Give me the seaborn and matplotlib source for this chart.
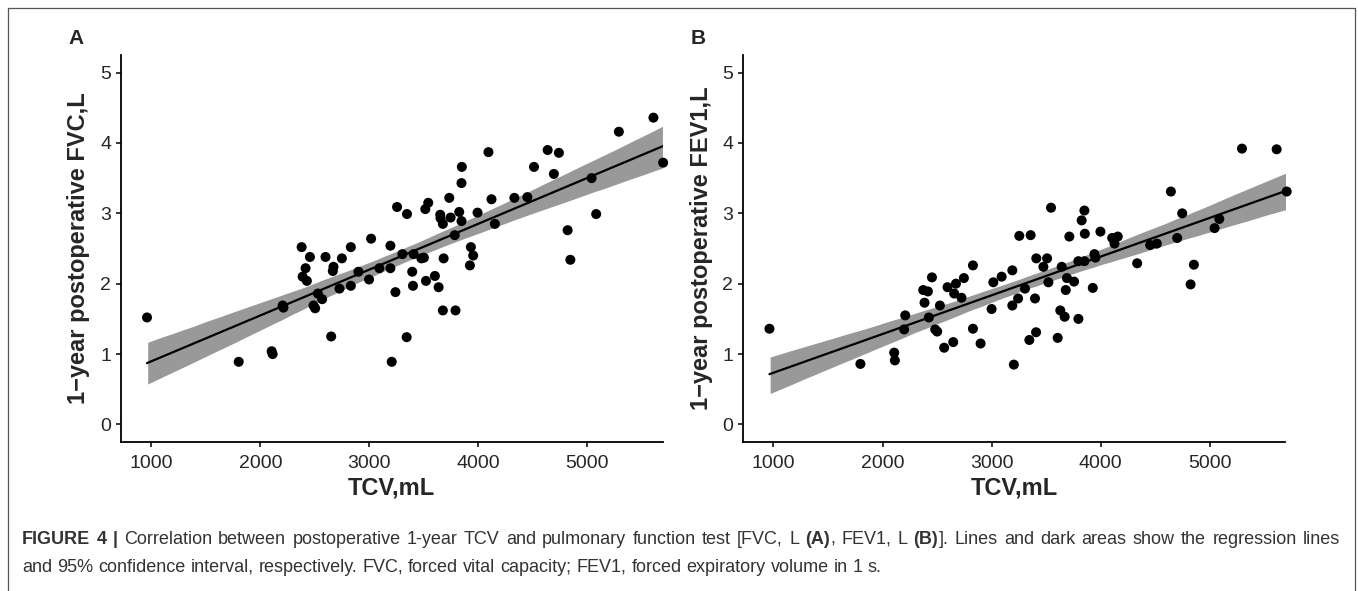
import numpy as np
import pandas as pd
import seaborn as sns
import matplotlib.pyplot as plt
from matplotlib.lines import Line2D

sns.set_theme(style='ticks')
plt.rcParams['font.family'] = ['Liberation Sans', 'DejaVu Sans']

# panel A: TCV vs 1-year FVC
tcv_a = [961, 1802, 2104, 2113, 2205, 2212, 2379, 2388, 2415, 2427,
         2455, 2488, 2503, 2528, 2567, 2598, 2650, 2665, 2671, 2726,
         2748, 2830, 2830, 2900, 2997, 3016, 3092, 3193, 3193, 3205,
         3239, 3254, 3303, 3342, 3345, 3393, 3400, 3406, 3477, 3500,
         3513, 3519, 3540, 3601, 3635, 3650, 3653, 3674, 3674, 3681,
         3733, 3745, 3783, 3790, 3824, 3845, 3848, 3845, 3922, 3931,
         3952, 3992, 4092, 4120, 4151, 4330, 4449, 4510, 4635, 4692,
         4738, 4818, 4843, 5038, 5080, 5288, 5605, 5694]
fvc = [1.52, 0.89, 1.04, 1.00, 1.69, 1.66, 2.52, 2.10, 2.22, 2.04,
       2.38, 1.69, 1.65, 1.86, 1.78, 2.38, 1.25, 2.18, 2.24, 1.93,
       2.36, 2.52, 1.97, 2.17, 2.06, 2.64, 2.22, 2.54, 2.22, 0.89,
       1.88, 3.09, 2.42, 1.24, 2.99, 2.17, 1.97, 2.42, 2.36, 2.37,
       3.06, 2.04, 3.15, 2.11, 1.95, 2.98, 2.93, 2.85, 1.62, 2.36,
       3.22, 2.94, 2.69, 1.62, 3.02, 3.43, 3.66, 2.89, 2.26, 2.52,
       2.40, 3.01, 3.87, 3.20, 2.85, 3.22, 3.23, 3.66, 3.90, 3.56,
       3.86, 2.76, 2.34, 3.50, 2.99, 4.16, 4.36, 3.72]

# panel B: TCV vs 1-year FEV1
tcv_b = [963, 1797, 2107, 2113, 2198, 2208, 2373, 2385, 2416, 2425,
         2453, 2483, 2501, 2526, 2565, 2596, 2648, 2657, 2673, 2724,
         2746, 2829, 2829, 2899, 3000, 3016, 3092, 3190, 3190, 3204,
         3243, 3254, 3306, 3346, 3358, 3398, 3408, 3410, 3475, 3509,
         3521, 3545, 3606, 3630, 3643, 3670, 3680, 3691, 3713, 3756,
         3796, 3796, 3826, 3851, 3851, 3855, 3928, 3943, 3952, 3998,
         4106, 4127, 4157, 4335, 4454, 4515, 4644, 4702, 4748, 4825,
         4855, 5045, 5088, 5296, 5614, 5706]
fev1 = [1.36, 0.86, 1.02, 0.91, 1.35, 1.55, 1.91, 1.73, 1.89, 1.52,
        2.09, 1.35, 1.32, 1.69, 1.09, 1.95, 1.17, 1.86, 2.00, 1.80,
        2.08, 2.26, 1.36, 1.15, 1.64, 2.02, 2.10, 2.19, 1.69, 0.85,
        1.79, 2.68, 1.93, 1.20, 2.69, 1.79, 1.31, 2.36, 2.24, 2.36,
        2.02, 3.08, 1.23, 1.62, 2.24, 1.53, 1.91, 2.08, 2.67, 2.03,
        2.32, 1.50, 2.90, 3.04, 2.32, 2.71, 1.94, 2.42, 2.37, 2.74,
        2.65, 2.57, 2.67, 2.29, 2.55, 2.57, 3.31, 2.65, 3.00, 1.99,
        2.27, 2.79, 2.92, 3.92, 3.91, 3.31]

x_ticks = [1000, 2000, 3000, 4000, 5000]
y_ticks = [0, 1, 2, 3, 4, 5]

fig = plt.figure(figsize=(13.58, 5.91), dpi=100)
ax_a = fig.add_axes([0.0889, 0.2521, 0.3991, 0.6548])
ax_b = fig.add_axes([0.5471, 0.2521, 0.3991, 0.6548])

panels = [
    (ax_a, tcv_a, fvc, '1\u2212year postoperative FVC,L', 'A'),
    (ax_b, tcv_b, fev1, '1\u2212year postoperative FEV1,L', 'B'),
]

for ax, xs, ys, ylab, tag in panels:
    df = pd.DataFrame({'tcv': xs, 'val': ys})
    sns.regplot(data=df, x='tcv', y='val', ax=ax, scatter=False, ci=95,
                seed=0, color='black', line_kws={'lw': 1.6, 'zorder': 4})
    band = ax.collections[-1]
    band.set_facecolor('#999999')
    band.set_alpha(1)
    band.set_zorder(2)
    sns.scatterplot(data=df, x='tcv', y='val', ax=ax, color='black',
                    s=52, edgecolor='none', zorder=3, clip_on=False)
    ax.set_xlim(720, 5690)
    ax.set_ylim(-0.25, 5.25)
    ax.set_xticks(x_ticks)
    ax.set_yticks(y_ticks)
    ax.tick_params(labelsize=14, colors='black', labelcolor='#262626',
                   length=3.5, width=1.1)
    ax.tick_params(axis='x', pad=6)
    for side in ['top', 'right']:
        ax.spines[side].set_visible(False)
    for side in ['left', 'bottom']:
        ax.spines[side].set_linewidth(1.3)
        ax.spines[side].set_color('black')
    ax.set_xlabel('TCV,mL', fontsize=17, fontweight='bold', labelpad=3)
    ax.set_ylabel(ylab, fontsize=17, fontweight='bold', labelpad=7)
    pos = ax.get_position()
    fig.text(pos.x0 - 0.033, 0.935, tag, fontsize=15, fontweight='bold',
             ha='center', va='center')

# frame around figure
for xy in [([8, 8], [591, 8]), ([8, 1355], [8, 8]), ([1355, 1355], [8, 591])]:
    fig.add_artist(Line2D(np.array(xy[0]) / 1358, 1 - np.array(xy[1]) / 591,
                          color='#555555', lw=0.9, transform=fig.transFigure))

# caption: words with bold/regular runs, first line justified
renderer = fig.canvas.get_renderer()
W = fig.bbox.width


def caption_line(parts, x0, y, x1=None):
    words = []
    for text, weight in parts:
        for i, w in enumerate(text.split(' ')):
            if w:
                words.append([w, weight, i > 0 or text.startswith(' ')])
    arts = []
    for w, weight, _ in words:
        t = fig.text(0, y, w, fontsize=13, fontweight=weight,
                     color='#333333', ha='left', va='baseline')
        arts.append(t)
    widths = [a.get_window_extent(renderer).width for a in arts]
    space = fig.text(0, 0, 'a a', fontsize=13).get_window_extent(renderer).width \
        - fig.text(0, 0, 'aa', fontsize=13).get_window_extent(renderer).width
    fig.texts[-2:] = []
    gaps = [g for _, _, g in words[1:]]
    n_gaps = sum(gaps)
    if x1 is not None and n_gaps:
        space = (x1 - x0 - sum(widths)) / n_gaps
    x = x0
    for k, a in enumerate(arts):
        if k > 0 and words[k][2]:
            x += space
        a.set_x(x / W)
        x += widths[k]


caption_line([
    ('FIGURE 4 |', 'bold'),
    (' Correlation between postoperative 1-year TCV and pulmonary function test [FVC, L', 'normal'),
    (' (A)', 'bold'),
    (', FEV1, L', 'normal'),
    (' (B)', 'bold'),
    ('].', 'normal'),
    (' Lines and dark areas show the regression lines', 'normal'),
], 22, 1 - 544 / 591, x1=1340)
caption_line([
    ('and 95% confidence interval, respectively. FVC, forced vital capacity; FEV1, forced expiratory volume in 1 s.', 'normal'),
], 22, 1 - 572 / 591)

fig.savefig('out.png', dpi=100)
